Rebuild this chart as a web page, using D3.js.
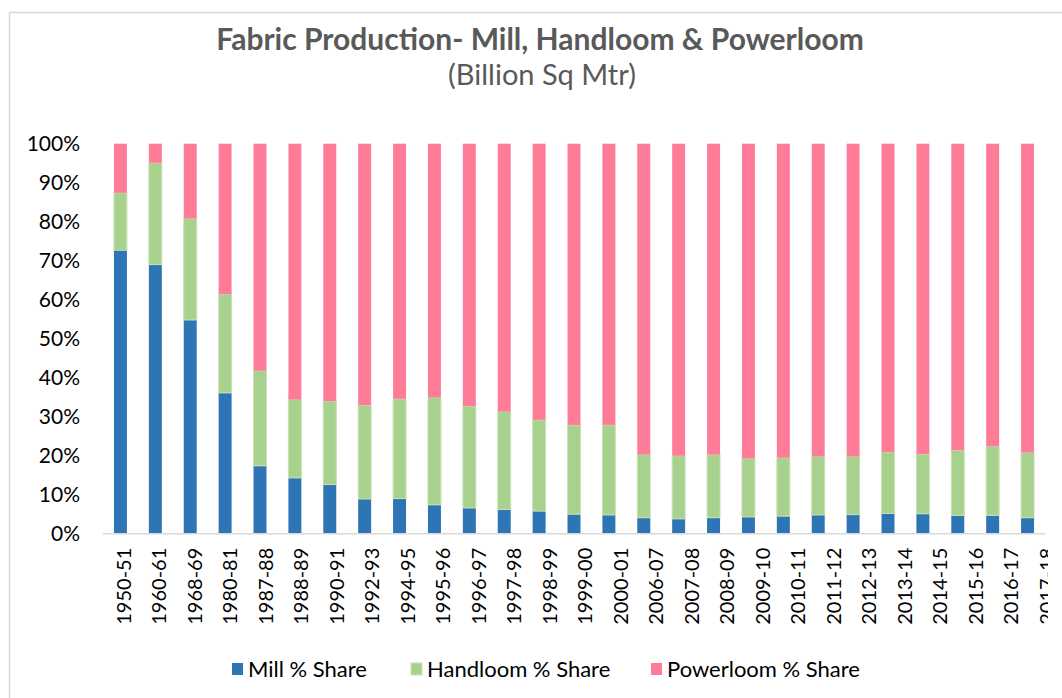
<!DOCTYPE html>
<html>
<head>
<meta charset="utf-8">
<script src="https://cdn.jsdelivr.net/npm/d3@7"></script>
<style>
  body { margin: 0; background: #fff; }
  text { font-family: Lato, "Open Sans", sans-serif; }
</style>
</head>
<body>
<svg id="chart" width="1062" height="698"></svg>
<script>
// Fabric production shares by sector (% of total output)
const years = ["1950-51","1960-61","1968-69","1980-81","1987-88","1988-89","1990-91","1992-93",
  "1994-95","1995-96","1996-97","1997-98","1998-99","1999-00","2000-01","2006-07","2007-08",
  "2008-09","2009-10","2010-11","2011-12","2012-13","2013-14","2014-15","2015-16","2016-17","2017-18"];
const millShare      = [72.7,69.0,54.8,36.1,17.4,14.3,12.6,8.9,9.0,7.4,6.6,6.2,5.8,5.0,4.8,4.1,3.8,4.1,4.3,4.5,4.8,4.9,5.2,5.1,4.7,4.7,4.1];
const handloomShare  = [14.7,26.1,26.0,25.3,24.4,20.1,21.4,24.1,25.6,27.5,26.1,25.1,23.4,22.9,23.1,16.2,16.2,16.2,15.0,15.0,15.0,14.9,15.7,15.3,16.7,17.7,16.7];
const powerloomShare = [12.6,4.9,19.2,38.6,58.2,65.6,66.0,67.0,65.4,65.1,67.3,68.7,70.8,72.1,72.1,79.7,80.0,79.7,80.7,80.5,80.2,80.2,79.1,79.6,78.6,77.6,79.2];
const seriesNames = ["Mill % Share","Handloom % Share","Powerloom % Share"];
const seriesColors = ["#2e75b6","#a9d18e","#ff7c98"];
const yTicks = [0,10,20,30,40,50,60,70,80,90,100];

const rows = years.map((yr, i) => ({
  year: yr,
  [seriesNames[0]]: millShare[i],
  [seriesNames[1]]: handloomShare[i],
  [seriesNames[2]]: powerloomShare[i]
}));

const svg = d3.select("#chart");

// outer chart frame
svg.append("rect")
  .attr("x", 9.5).attr("y", 12.5)
  .attr("width", 1100).attr("height", 720)
  .attr("fill", "#fff").attr("stroke", "#d9d9d9").attr("stroke-width", 1.5);

// label area is clipped at the right end of the category axis
svg.append("defs").append("clipPath").attr("id", "labelClip")
  .append("rect").attr("x", 0).attr("y", 0).attr("width", 1048).attr("height", 698);

// titles
svg.append("text")
  .attr("x", 540).attr("y", 50)
  .attr("text-anchor", "middle")
  .attr("fill", "#595959")
  .attr("font-weight", "bold")
  .attr("font-size", 30)
  .text("Fabric Production- Mill, Handloom & Powerloom");
svg.append("text")
  .attr("x", 542).attr("y", 85)
  .attr("text-anchor", "middle")
  .attr("fill", "#595959")
  .attr("font-size", 29)
  .text("(Billion Sq Mtr)");

const x = d3.scaleBand()
  .domain(years)
  .range([103, 1045])
  .paddingInner(0.628)
  .paddingOuter(0.314);

// category labels are laid out on a slightly wider spacing than the bars
const xLabel = d3.scalePoint()
  .domain(years)
  .range([122, 1045]);

const y = d3.scaleLinear()
  .domain([0, 100])
  .range([533.7, 143.7]);

const stack = d3.stack().keys(seriesNames)(rows);

const color = d3.scaleOrdinal().domain(seriesNames).range(seriesColors);

svg.append("g")
  .selectAll("g")
  .data(stack)
  .join("g")
    .attr("fill", d => color(d.key))
    .attr("stroke", d => d.key === seriesNames[1] ? "#c8e2b6" : "none")
    .attr("stroke-width", 1)
  .selectAll("rect")
  .data(d => d)
  .join("rect")
    .attr("x", d => x(d.data.year))
    .attr("width", x.bandwidth())
    .attr("y", d => y(d[1]))
    .attr("height", d => y(d[0]) - y(d[1]));

// category axis line
svg.append("line")
  .attr("x1", x.range()[0]).attr("x2", x.range()[1])
  .attr("y1", y(0)).attr("y2", y(0))
  .attr("stroke", "#d9d9d9").attr("stroke-width", 1.5);

// category labels
const xAxis = svg.append("g")
  .attr("clip-path", "url(#labelClip)")
  .append("g")
  .attr("transform", `translate(0,${y(0)})`)
  .call(d3.axisBottom(xLabel).tickSize(0).tickSizeOuter(0).tickPadding(0));
xAxis.select(".domain").remove();
xAxis.selectAll("text")
  .attr("font-size", 20)
  .attr("fill", "#000")
  .attr("transform", "rotate(-90)")
  .attr("text-anchor", "end")
  .attr("dy", "0.4em")
  .attr("x", -14)
  .attr("y", 0);

// value axis
const yAxis = svg.append("g")
  .attr("transform", "translate(80,0)")
  .call(d3.axisLeft(y).tickValues(yTicks).tickFormat(d => d + "%").tickSize(0).tickPadding(0));
yAxis.select(".domain").remove();
yAxis.selectAll("text").attr("font-size", 21).attr("fill", "#000");

// legend
const legendX = [232, 411, 651];
const legend = svg.append("g")
  .selectAll("g")
  .data(seriesNames)
  .join("g")
    .attr("transform", (d, i) => `translate(${legendX[i]},669)`);
legend.append("rect")
  .attr("x", 0).attr("y", -6)
  .attr("width", 11).attr("height", 12)
  .attr("fill", d => color(d))
  .attr("stroke", d => d === seriesNames[1] ? "#c8e2b6" : "none");
legend.append("text")
  .attr("x", 16).attr("y", 0)
  .attr("dy", "0.35em")
  .attr("font-size", 22)
  .attr("fill", "#000")
  .text(d => d);
</script>
</body>
</html>
